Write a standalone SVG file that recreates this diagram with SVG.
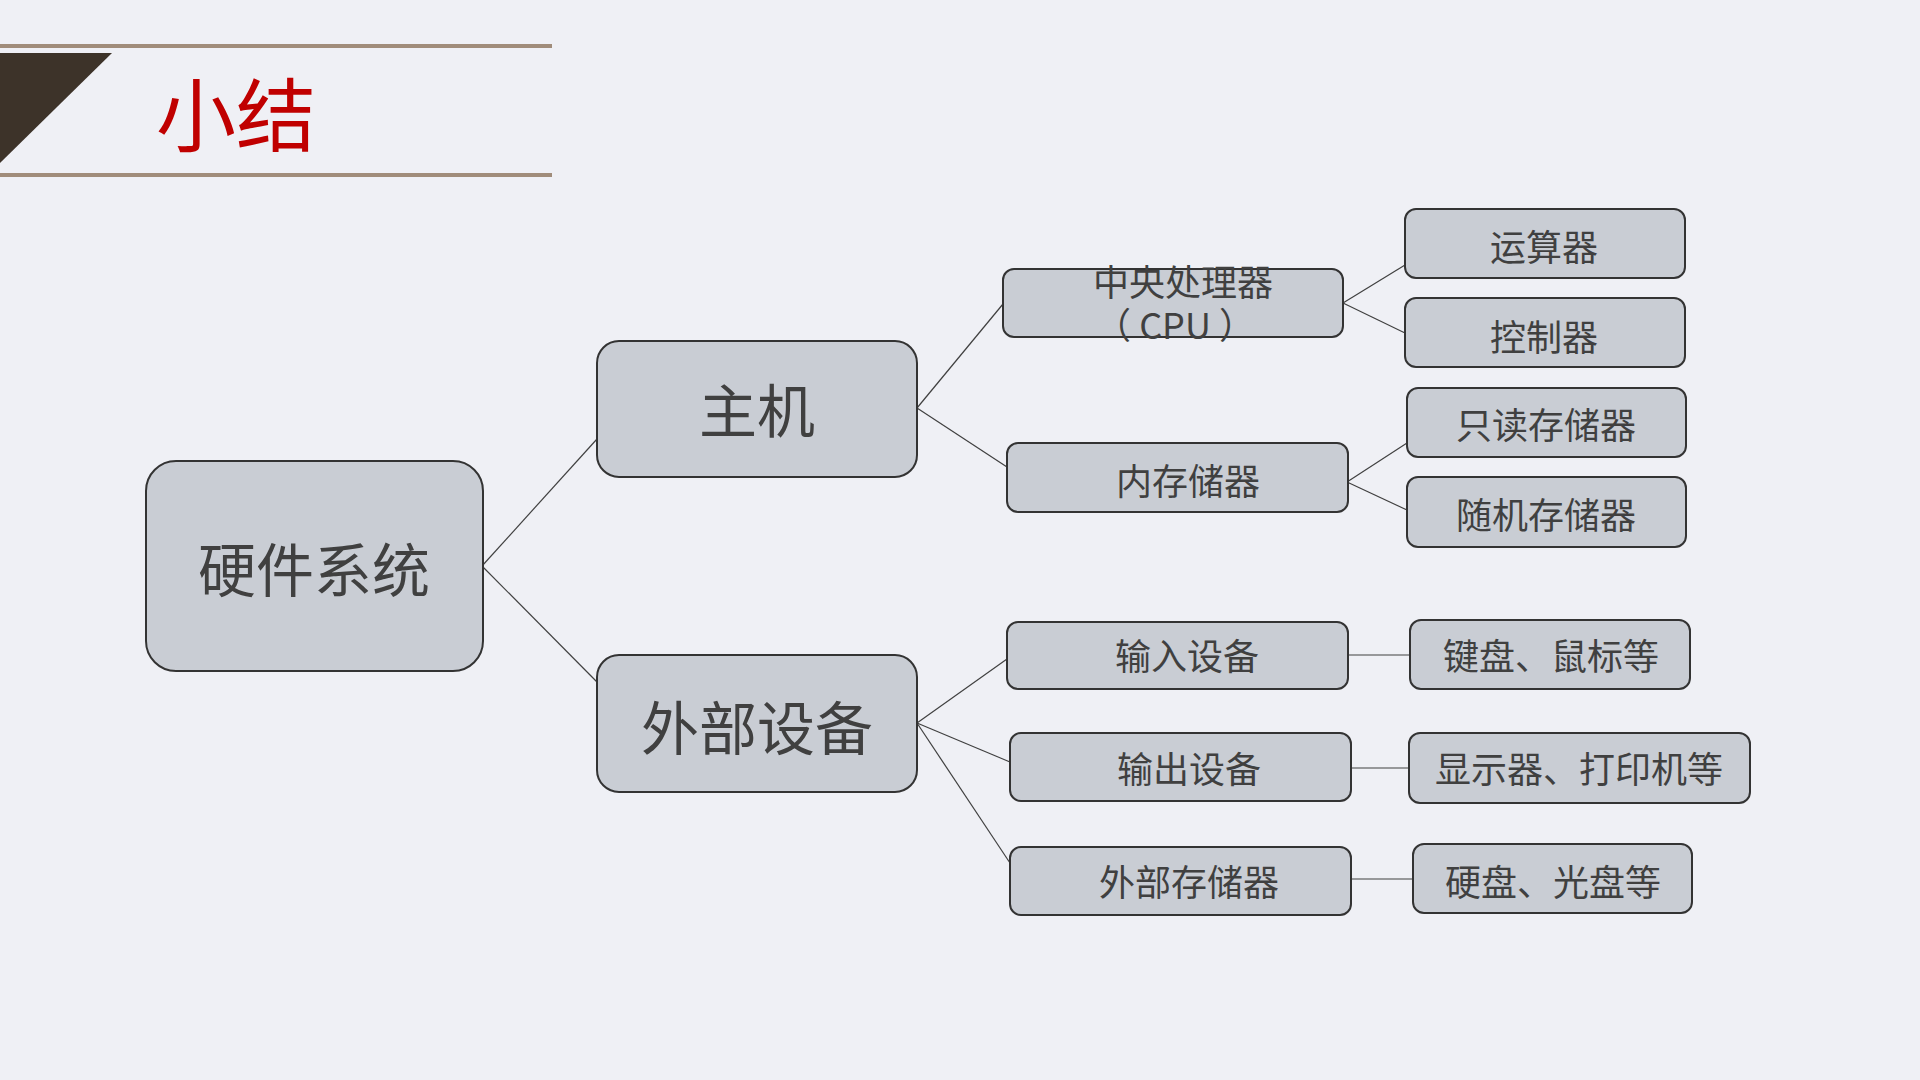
<svg xmlns="http://www.w3.org/2000/svg" width="1920" height="1080" viewBox="0 0 1920 1080">
<style>
.box{fill:#c9cdd4;stroke:#333333;stroke-width:2}
.t{font-family:"Microsoft YaHei","Noto Sans CJK SC","Noto Sans",sans-serif;fill:#404040;text-anchor:middle}
.l0{font-size:58px}
.l2{font-size:36px}
.conn{stroke:#404040;stroke-width:1.2;fill:none}
</style>
<rect width="1920" height="1080" fill="#eff0f5"/>
<g id="header">
<line x1="0" y1="46" x2="552" y2="46" stroke="#a08c7a" stroke-width="4"/>
<line x1="0" y1="175" x2="552" y2="175" stroke="#a08c7a" stroke-width="4"/>
<polygon points="0,53 112,53 0,163" fill="#3d3329"/>
<text x="156" y="145" font-family="'Microsoft YaHei','Noto Sans CJK SC',sans-serif" font-size="80" fill="#c00000">小结</text>
</g>
<g id="connectors">
<line class="conn" x1="482" y1="566" x2="597" y2="439"/>
<line class="conn" x1="482" y1="566" x2="597" y2="682"/>
<line class="conn" x1="917" y1="408" x2="1003" y2="304"/>
<line class="conn" x1="917" y1="408" x2="1007" y2="467"/>
<line class="conn" x1="1343" y1="303" x2="1405" y2="265"/>
<line class="conn" x1="1343" y1="303" x2="1405" y2="333"/>
<line class="conn" x1="1347" y1="482" x2="1407" y2="443"/>
<line class="conn" x1="1347" y1="482" x2="1407" y2="510"/>
<line class="conn" x1="917" y1="723" x2="1007" y2="659"/>
<line class="conn" x1="917" y1="723" x2="1010" y2="762"/>
<line class="conn" x1="917" y1="723" x2="1010" y2="863"/>
<line class="conn" x1="1348" y1="655" x2="1410" y2="655"/>
<line class="conn" x1="1349" y1="768" x2="1409" y2="768"/>
<line class="conn" x1="1351" y1="879" x2="1413" y2="879"/>
</g>
<g id="n-hardware"><rect class="box" x="146" y="461" width="337" height="210" rx="30"/><text class="t l0" x="314" y="592">硬件系统</text></g>
<g id="n-host"><rect class="box" x="597" y="341" width="320" height="136" rx="22"/><text class="t l0" x="757" y="433">主机</text></g>
<g id="n-peripheral"><rect class="box" x="597" y="655" width="320" height="137" rx="22"/><text class="t l0" x="757" y="750">外部设备</text></g>
<g id="n-cpu"><rect class="box" x="1003" y="269" width="340" height="68" rx="11"/><text class="t l2" x="1183" y="296">中央处理器</text><text class="t l2" x="1175" y="339">（ CPU ）</text></g>
<g id="n-mem"><rect class="box" x="1007" y="443" width="341" height="69" rx="11"/><text class="t l2" x="1188" y="495">内存储器</text></g>
<g id="n-alu"><rect class="box" x="1405" y="209" width="280" height="69" rx="11"/><text class="t l2" x="1544" y="261">运算器</text></g>
<g id="n-ctrl"><rect class="box" x="1405" y="298" width="280" height="69" rx="11"/><text class="t l2" x="1544" y="351">控制器</text></g>
<g id="n-rom"><rect class="box" x="1407" y="388" width="279" height="69" rx="11"/><text class="t l2" x="1546" y="439">只读存储器</text></g>
<g id="n-ram"><rect class="box" x="1407" y="477" width="279" height="70" rx="11"/><text class="t l2" x="1546" y="529">随机存储器</text></g>
<g id="n-input"><rect class="box" x="1007" y="622" width="341" height="67" rx="11"/><text class="t l2" x="1187" y="670">输入设备</text></g>
<g id="n-kbd"><rect class="box" x="1410" y="620" width="280" height="69" rx="11"/><text class="t l2" x="1551" y="670">键盘、鼠标等</text></g>
<g id="n-output"><rect class="box" x="1010" y="733" width="341" height="68" rx="11"/><text class="t l2" x="1189" y="783">输出设备</text></g>
<g id="n-disp"><rect class="box" x="1409" y="733" width="341" height="70" rx="11"/><text class="t l2" x="1579" y="783">显示器、打印机等</text></g>
<g id="n-ext"><rect class="box" x="1010" y="847" width="341" height="68" rx="11"/><text class="t l2" x="1189" y="896">外部存储器</text></g>
<g id="n-disk"><rect class="box" x="1413" y="844" width="279" height="69" rx="11"/><text class="t l2" x="1553" y="896">硬盘、光盘等</text></g>
</svg>
